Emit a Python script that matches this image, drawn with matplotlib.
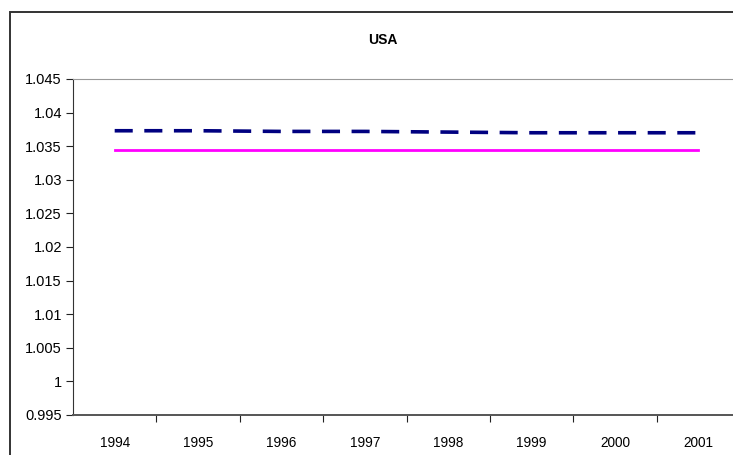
import matplotlib
matplotlib.use("Agg")
import matplotlib.pyplot as plt
from matplotlib.patches import Rectangle

plt.rcParams['font.family'] = ['Liberation Sans', 'DejaVu Sans']

years = ['1994', '1995', '1996', '1997', '1998', '1999', '2000', '2001']
series_dashed = [1.0373, 1.0373, 1.0372, 1.0372, 1.0371, 1.0370, 1.0370, 1.0370]
series_solid = [1.0344, 1.0344, 1.0344, 1.0344, 1.0344, 1.0344, 1.0344, 1.0344]
y_ticks = [0.995, 1.0, 1.005, 1.01, 1.015, 1.02, 1.025, 1.03, 1.035, 1.04, 1.045]
y_labels = ['0.995', '1', '1.005', '1.01', '1.015', '1.02', '1.025', '1.03', '1.035', '1.04', '1.045']

W, H = 733, 455
fig = plt.figure(figsize=(W / 100, H / 100), dpi=100)

# chart frame
fig.patches.append(Rectangle((10 / W, -0.05), 1.1, (H - 12) / H + 0.05,
                             transform=fig.transFigure, fill=False,
                             edgecolor='#333333', linewidth=1.4, zorder=0))

left, right, top, bottom = 73, 740, 79, 415
ax = fig.add_axes([left / W, (H - bottom) / H, (right - left) / W, (bottom - top) / H])

x = list(range(len(years)))
ax.plot(x, series_dashed, color='#000080', linewidth=2.6, linestyle=(0, (5, 3.2)))
ax.plot(x, series_solid, color='#FF00FF', linewidth=2.0)

ax.set_xlim(-0.5, len(years) - 0.5)
ax.set_ylim(0.995, 1.045)
ax.set_yticks(y_ticks)
ax.set_yticklabels(y_labels, fontsize=10.5)
ax.set_xticks(x)
ax.set_xticklabels(years, fontsize=9.8)
ax.tick_params(axis='x', which='major', length=0, pad=15)
ax.set_xticks([i + 0.5 for i in x[:-1]], minor=True)
ax.tick_params(axis='x', which='minor', length=5, width=0.8, direction='out', color='#222222')
ax.tick_params(axis='y', length=5, width=0.8, direction='out', color='#222222', pad=3)

ax.spines['left'].set_color('#333333')
ax.spines['bottom'].set_color('#555555')
ax.spines['bottom'].set_linewidth(1.4)
ax.spines['top'].set_color('#999999')
ax.spines['right'].set_visible(False)

fig.text(383 / W, (H - 40) / H, 'USA', ha='center', va='center',
         fontsize=10, fontweight='bold')

fig.savefig('out.png', dpi=100)
